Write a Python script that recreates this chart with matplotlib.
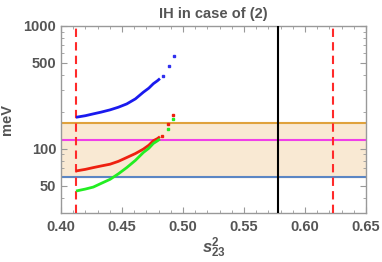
import matplotlib
matplotlib.use("Agg")
import matplotlib.pyplot as plt
from matplotlib.ticker import FixedLocator, NullFormatter, MultipleLocator

# Data
blue_x = [0.4123, 0.4200, 0.4265, 0.4330, 0.4402, 0.4470, 0.4539, 0.4610, 0.4675, 0.4720, 0.4757, 0.4790, 0.4811]
blue_y = [180.6, 186, 192.5, 199, 207.5, 218, 232, 255, 289, 312, 339, 358, 373]
blue_tail_x = [0.4834, 0.4885, 0.4926]
blue_tail_y = [392, 473, 571]

red_x = [0.4123, 0.4200, 0.4265, 0.4330, 0.4402, 0.4470, 0.4539, 0.4610, 0.4675, 0.4720, 0.4757, 0.4790, 0.4811]
red_y = [66.0, 68.0, 70.3, 72.5, 74.9, 79, 84.9, 91.5, 99.4, 107, 116.3, 121, 125.4]
red_tail_x = [0.4825, 0.488, 0.492]
red_tail_y = [128, 159, 189]

green_x = [0.4123, 0.4200, 0.4265, 0.4330, 0.4402, 0.4470, 0.4539, 0.4610, 0.4675, 0.4720, 0.4757, 0.4790, 0.4811]
green_y = [45.3, 47.0, 48.8, 52.3, 56.4, 62.5, 70.3, 80.5, 93.3, 101, 110.6, 116, 120.1]
green_tail_x = [0.488, 0.492]
green_tail_y = [146, 176]

h_orange = 161
h_magenta = 117
h_blue = 59
v_red = [0.4125, 0.623]
v_black = 0.578

xticks = [0.40, 0.45, 0.50, 0.55, 0.60, 0.65]
xtick_labels = ["0.40", "0.45", "0.50", "0.55", "0.60", "0.65"]
yticks = [50, 100, 500, 1000]
ytick_labels = ["50", "100", "500", "1000"]

gray = "#555555"
plt.rcParams['font.family'] = ['Liberation Sans', 'DejaVu Sans']
plt.rcParams['mathtext.fontset'] = 'custom'
plt.rcParams['mathtext.rm'] = 'Liberation Sans:bold'
plt.rcParams['mathtext.it'] = 'Liberation Sans:bold:italic'
plt.rcParams['mathtext.bf'] = 'Liberation Sans:bold'

fig = plt.figure(figsize=(3.82, 2.62), dpi=100)
ax = fig.add_axes([61/382, 49/262, 305/382, 187/262])
ax.set_xlim(0.40, 0.65)
ax.set_yscale('log')
ax.set_ylim(30, 1000)

ax.axhspan(h_blue, h_orange, color="#f9e9d3", zorder=0)
ax.axhline(h_orange, color="#e0a23c", lw=1.5, zorder=2)
ax.axhline(h_magenta, color="#f040e8", lw=1.5, zorder=2)
ax.axhline(h_blue, color="#5b86c4", lw=1.5, zorder=2)
for v in v_red:
    ax.axvline(v, color="#ff2a2a", lw=1.5, ls=(0, (4, 2.5)), zorder=3)
ax.axvline(v_black, color="black", lw=1.5, zorder=3)

ax.plot(blue_x, blue_y, color="#1a1aee", lw=2.0, zorder=4, solid_capstyle='butt')
ax.plot(blue_tail_x, blue_tail_y, ls='none', marker='s', ms=1.5, color="#3030ee", zorder=4)
ax.plot(red_x, red_y, color="#ee2010", lw=2.0, zorder=4, solid_capstyle='butt')
ax.plot(red_tail_x, red_tail_y, ls='none', marker='s', ms=1.5, color="#ee2010", zorder=4)
ax.plot(green_x, green_y, color="#22ee22", lw=2.0, zorder=4, solid_capstyle='butt')
ax.plot(green_tail_x, green_tail_y, ls='none', marker='s', ms=1.5, color="#22ee22", zorder=4)

ax.set_xticks(xticks)
ax.set_xticklabels(xtick_labels)
ax.xaxis.set_minor_locator(MultipleLocator(0.01))
ax.yaxis.set_major_locator(FixedLocator(yticks))
ax.set_yticklabels(ytick_labels)
ax.yaxis.set_minor_locator(FixedLocator([40, 60, 70, 80, 90, 200, 300, 400, 600, 700, 800, 900]))
ax.yaxis.set_minor_formatter(NullFormatter())

ax.tick_params(which='both', direction='in', top=True, right=True, colors="#999999",
               labelcolor=gray, labelsize=10.5)
ax.tick_params(which='major', length=4)
ax.tick_params(which='minor', length=2)
ax.tick_params(axis='x', pad=5)
for lab in ax.get_xticklabels() + ax.get_yticklabels():
    lab.set_fontweight('bold')
for s in ax.spines.values():
    s.set_color("#999999")
    s.set_linewidth(1.0)

ax.set_title("IH in case of (2)", color=gray, fontsize=10.5, fontweight='bold', pad=6)
ax.set_ylabel("meV", color=gray, fontsize=10.5, fontweight='bold')
ax.yaxis.set_label_coords(-0.155, 0.5)
ax.set_xlabel(r"$s^2_{23}$", color=gray, fontsize=12, labelpad=1)

fig.savefig("out.png", dpi=100)
